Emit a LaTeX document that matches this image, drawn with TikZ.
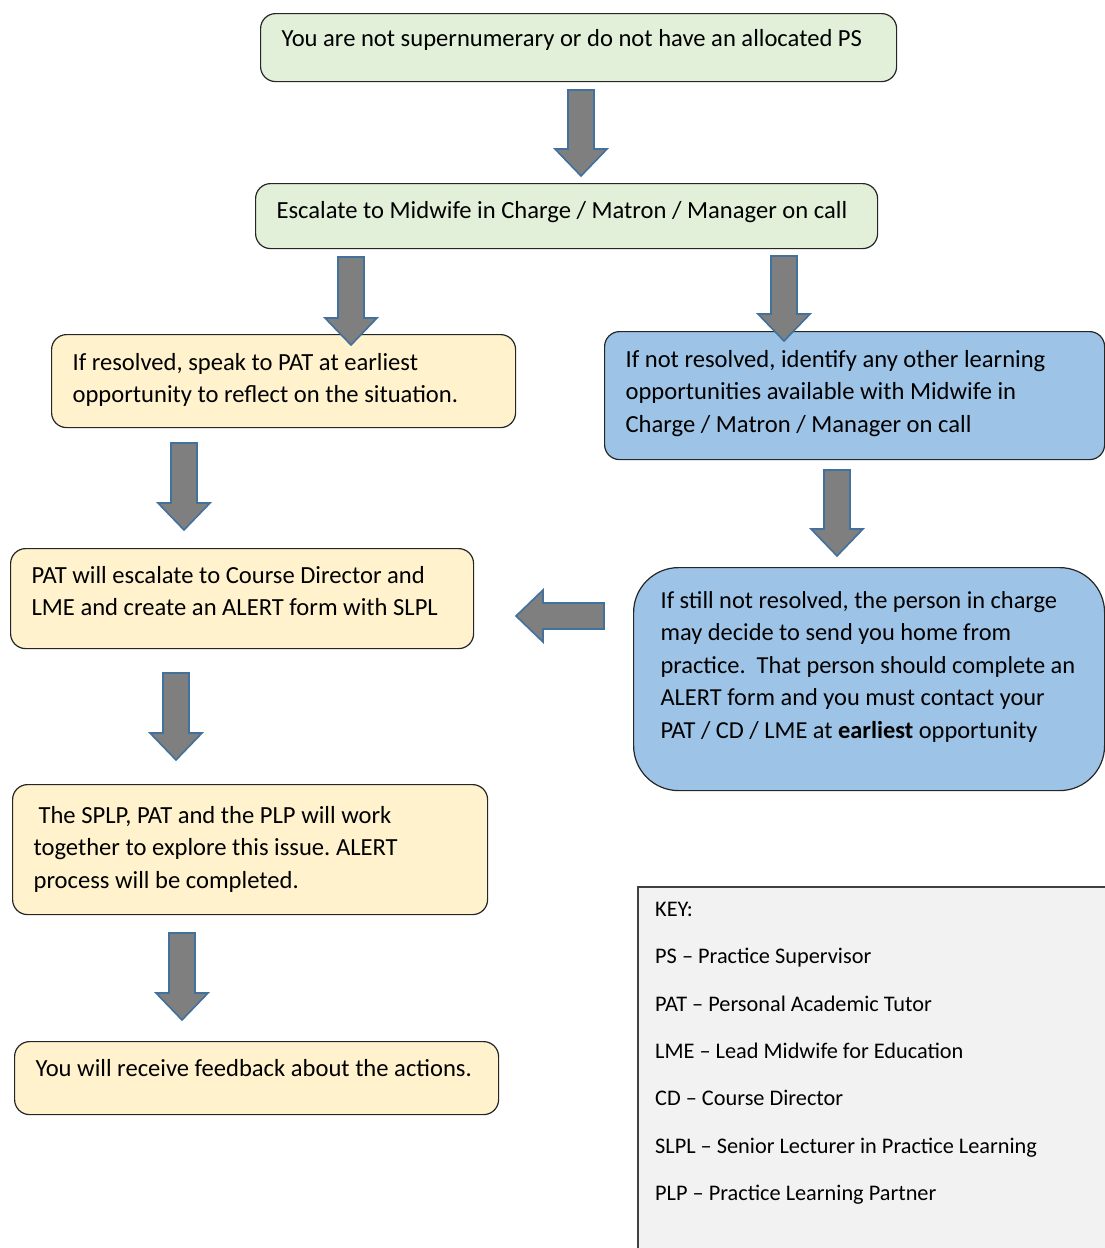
\documentclass[tikz,border=0pt]{standalone}
\usepackage{fontspec}
\setmainfont{Carlito}
\usetikzlibrary{positioning}
\frenchspacing

\definecolor{greenfill}{HTML}{E2F0D9}
\definecolor{yellowfill}{HTML}{FFF2CC}
\definecolor{bluefill}{HTML}{9DC3E6}
\definecolor{keyfill}{HTML}{F2F2F2}
\definecolor{boxline}{HTML}{262626}
\definecolor{keyline}{HTML}{404040}
\definecolor{arrowfill}{HTML}{7F7F7F}
\definecolor{arrowline}{HTML}{41719C}

% height, width, top gap, text
\newcommand{\boxtext}[4]{\parbox[t][#1][t]{#2}{\vspace*{#3}\strut#4}}

\tikzset{
  flowbox/.style={draw=boxline, line width=1.2pt, rounded corners=15pt,
    inner xsep=21pt, inner ysep=0pt, anchor=north west,
    font=\fontsize{24.6}{32.5}\selectfont},
  blockarrow/.style={fill=arrowfill, draw=arrowline, line width=1.6pt, line join=miter}
}

\begin{document}
\begin{tikzpicture}[x=1pt, y=-1pt]
  \useasboundingbox (0,0) rectangle (1105,1248);

  \node[flowbox, fill=greenfill] (notsup) at (260,13)
    {\boxtext{68pt}{594pt}{10pt}{You are not supernumerary or do not have an allocated PS}};
  \node[flowbox, fill=greenfill] (escalate) at (255,183)
    {\boxtext{65pt}{580pt}{12pt}{Escalate to Midwife in Charge / Matron / Manager on call}};
  \node[flowbox, fill=yellowfill] (resolved) at (51,334)
    {\boxtext{93pt}{422pt}{13pt}{If resolved, speak to PAT at earliest\\ opportunity to reflect on the situation.}};
  \node[flowbox, fill=bluefill] (notresolved) at (604,331)
    {\boxtext{128pt}{458pt}{13pt}{If not resolved, identify any other learning\\ opportunities available with Midwife in\\ Charge / Matron / Manager on call}};
  \node[flowbox, fill=yellowfill] (patescalate) at (10,548)
    {\boxtext{100pt}{421pt}{12pt}{PAT will escalate to Course Director and\\ LME and create an ALERT form with SLPL}};
  \node[flowbox, fill=bluefill, rounded corners=45pt, inner xsep=27pt,
    font=\fontsize{24.4}{32.5}\selectfont] (stillnot) at (633,567)
    {\boxtext{223pt}{417pt}{18pt}{If still not resolved, the person in charge\\ may decide to send you home from\\ practice.\ \ That person should complete an\\ ALERT form and you must contact your\\ PAT / CD / LME at \textbf{earliest} opportunity}};
  \node[flowbox, fill=yellowfill] (worktogether) at (12,784)
    {\boxtext{130pt}{433pt}{16pt}{\hspace{5pt}The SPLP, PAT and the PLP will work\\ together to explore this issue. ALERT\\ process will be completed.}};
  \node[flowbox, fill=yellowfill] (feedback) at (14,1041)
    {\boxtext{73pt}{442pt}{12pt}{You will receive feedback about the actions.}};

  % key
  \node[fill=keyfill, inner xsep=17pt, inner ysep=0pt, anchor=north west,
    font=\fontsize{22.3}{47.3}\selectfont] (key) at (638,887)
    {\parbox[t][361pt][t]{433pt}{\vspace*{15pt}KEY:\\
      PS -- Practice Supervisor\\
      PAT -- Personal Academic Tutor\\
      LME -- Lead Midwife for Education\\
      CD -- Course Director\\
      SLPL -- Senior Lecturer in Practice Learning\\
      PLP -- Practice Learning Partner}};
  \draw[keyline, line width=1.4pt] (key.south west) -- (key.north west) -- (key.north east);

  % block arrows
  \foreach \cx/\ya/\yb in {581/90/176, 351/257/345, 784/256/341, 184/443/530,
                           837/470/556, 176/673/760, 182/933/1020}
    \draw[blockarrow] (\cx-13,\ya) -- (\cx+13,\ya) -- (\cx+13,\yb-27) -- (\cx+26,\yb-27)
      -- (\cx,\yb) -- (\cx-26,\yb-27) -- (\cx-13,\yb-27) -- cycle;
  \draw[blockarrow] (604,603) -- (543,603) -- (543,590) -- (516,616) -- (543,642)
    -- (543,629) -- (604,629) -- cycle;
\end{tikzpicture}
\end{document}
